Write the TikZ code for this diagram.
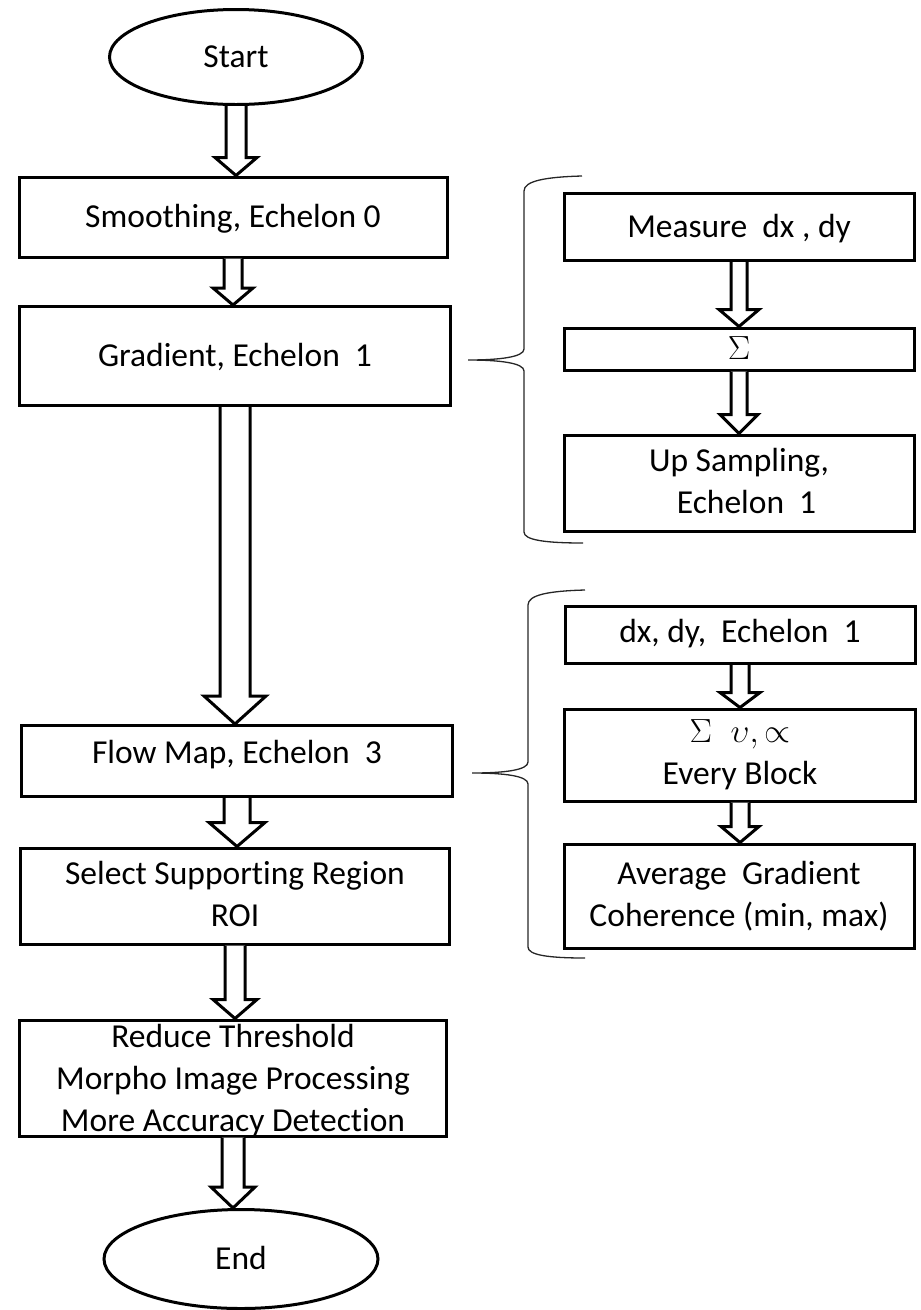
\documentclass[tikz,border=0pt]{standalone}
\usepackage{fix-cm}
\usepackage{fontspec}
\setmainfont{Carlito}[Ligatures=NoCommon]
\usepackage{tikz}
\usetikzlibrary{shapes.geometric, calc}

\tikzset{
  blok/.style={draw, line width=3pt, fill=white, inner sep=0pt, align=center,
    text height=21pt, text depth=0pt, font=\fontsize{33.5}{42}\selectfont},
  oval/.style={blok, ellipse},
  twolines/.style={text height=63pt, text depth=3pt},
  threelines/.style={text height=107pt, text depth=0pt},
  fatline/.style={draw, line width=3pt, line join=miter, fill=white},
  brace/.style={draw=black!85, line width=1.3pt}
}
\newcommand{\hollowarrow}[5]{%
\path[fatline] let \p1=(#1.south), \p2=(#2.north) in
  (\x1-#3,\y1) -- (\x1-#3,\y2+#5) -- (\x1-#4,\y2+#5) -- (\x1,\y2)
  -- (\x1+#4,\y2+#5) -- (\x1+#3,\y2+#5) -- (\x1+#3,\y1);}

\begin{document}
\begin{tikzpicture}[x=1pt,y=-1pt]
\useasboundingbox (0,0) rectangle (921,1310);

\node[oval, minimum width=253, minimum height=95] (start) at (236,57) {Start};
\node[blok, minimum width=428, minimum height=80] (smooth) at (233,217) {Smoothing, Echelon 0};
\node[blok, minimum width=431, minimum height=99] (grad) at (235,356) {Gradient, Echelon\ \ 1};
\node[blok, minimum width=431, minimum height=71, text depth=17pt] (flow) at (237,761) {Flow Map, Echelon\ \ 3};
\node[blok, twolines, minimum width=429, minimum height=96] (roi) at (235,896) {Select Supporting Region\\ROI};
\node[blok, threelines, minimum width=427, minimum height=116] (reduce) at (233,1078) {Reduce Threshold\\Morpho Image Processing\\More Accuracy Detection};
\node[oval, minimum width=274, minimum height=99] (end) at (241,1259) {End};

\node[blok, minimum width=350, minimum height=67] (measure) at (739,227) {Measure\ \ dx , dy};
\node[blok, minimum width=350, minimum height=42] (sum) at (739,349) {$\Sigma$};
\node[blok, twolines, minimum width=350, minimum height=96] (upsamp) at (739,483) {Up Sampling,\\\ \ Echelon\ \ 1};

\node[blok, minimum width=350, minimum height=57, text depth=7pt] (dxdy) at (740,635) {dx, dy,\ \ Echelon\ \ 1};
\node[blok, twolines, minimum width=351, minimum height=92, text depth=4pt] (sumv) at (740,755) {$\Sigma\;\;\upsilon,\propto$\\Every Block};
\node[blok, twolines, minimum width=350, minimum height=104] (avg) at (739,896) {Average\ \ Gradient\\Coherence (min, max)};

\hollowarrow{start}{smooth}{10pt}{21pt}{18pt}
\hollowarrow{smooth}{grad}{9pt}{20pt}{17pt}
\hollowarrow{grad}{flow}{15pt}{31pt}{28pt}
\hollowarrow{flow}{roi}{13pt}{28pt}{24pt}
\hollowarrow{roi}{reduce}{10pt}{22pt}{19pt}
\hollowarrow{reduce}{end}{11pt}{22pt}{21pt}
\hollowarrow{measure}{sum}{8pt}{20pt}{17pt}
\hollowarrow{sum}{upsamp}{8pt}{19pt}{19pt}
\hollowarrow{dxdy}{sumv}{9pt}{20pt}{15pt}
\hollowarrow{sumv}{avg}{9pt}{19pt}{16pt}

\draw[brace] (582,176) .. controls (545,177) and (524,181) .. (524,191) -- (524,349)
  .. controls (524,357) and (500,360) .. (468,360)
  .. controls (500,360) and (524,363) .. (524,371) -- (524,532)
  .. controls (524,540) and (545,543) .. (583,543);
\draw[brace] (585,590) .. controls (548,591) and (528,595) .. (528,605) -- (528,762)
  .. controls (528,770) and (505,773) .. (472,773)
  .. controls (505,773) and (528,776) .. (528,784) -- (528,947)
  .. controls (528,955) and (548,958) .. (585,958);
\end{tikzpicture}
\end{document}
